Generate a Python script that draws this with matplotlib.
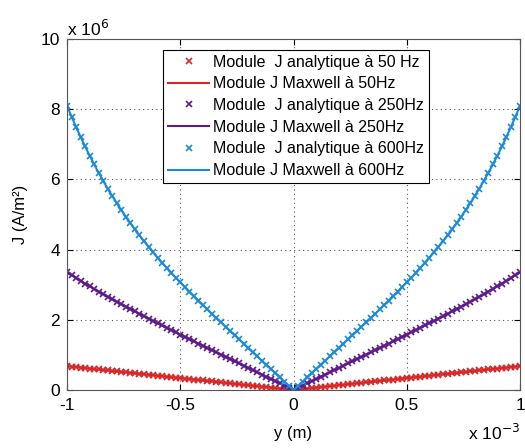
import numpy as np
from matplotlib import pyplot as plt
from matplotlib.ticker import FuncFormatter, MultipleLocator

#######################################################
## data (half profile, y >= 0, mirrored on y < 0)
#######################################################

y_half_mm = [0.00, 0.02, 0.04, 0.06, 0.08, 0.10, 0.12, 0.14, 0.16, 0.18,
             0.20, 0.22, 0.24, 0.26, 0.28, 0.30, 0.32, 0.34, 0.36, 0.38,
             0.40, 0.42, 0.44, 0.46, 0.48, 0.50, 0.52, 0.54, 0.56, 0.58,
             0.60, 0.62, 0.64, 0.66, 0.68, 0.70, 0.72, 0.74, 0.76, 0.78,
             0.80, 0.82, 0.84, 0.86, 0.88, 0.90, 0.92, 0.94, 0.96, 0.98, 1.00]

# |J| in 1e6 A/m2
j_50 = [0.000, 0.014, 0.027, 0.041, 0.054, 0.068, 0.081, 0.095, 0.109, 0.122,
        0.136, 0.149, 0.163, 0.176, 0.190, 0.203, 0.217, 0.231, 0.244, 0.258,
        0.271, 0.285, 0.298, 0.312, 0.326, 0.339, 0.353, 0.366, 0.380, 0.394,
        0.407, 0.421, 0.434, 0.448, 0.461, 0.475, 0.489, 0.502, 0.516, 0.530,
        0.543, 0.557, 0.570, 0.584, 0.598, 0.611, 0.625, 0.639, 0.653, 0.666, 0.680]

j_250 = [0.000, 0.063, 0.126, 0.189, 0.252, 0.315, 0.377, 0.440, 0.503, 0.566,
         0.629, 0.692, 0.755, 0.818, 0.881, 0.944, 1.007, 1.070, 1.134, 1.197,
         1.260, 1.324, 1.387, 1.451, 1.515, 1.579, 1.644, 1.708, 1.773, 1.838,
         1.904, 1.970, 2.036, 2.103, 2.170, 2.237, 2.306, 2.375, 2.444, 2.515,
         2.586, 2.658, 2.731, 2.804, 2.879, 2.955, 3.032, 3.111, 3.191, 3.272, 3.354]

j_600 = [0.000, 0.120, 0.240, 0.359, 0.479, 0.599, 0.719, 0.839, 0.958, 1.078,
         1.199, 1.319, 1.439, 1.560, 1.681, 1.802, 1.924, 2.047, 2.170, 2.294,
         2.420, 2.546, 2.674, 2.803, 2.934, 3.067, 3.203, 3.341, 3.481, 3.625,
         3.773, 3.924, 4.080, 4.240, 4.405, 4.575, 4.751, 4.934, 5.123, 5.319,
         5.523, 5.735, 5.956, 6.186, 6.426, 6.676, 6.937, 7.209, 7.493, 7.790, 8.100]

labels = ['Module  J analytique à 50 Hz', 'Module J Maxwell à 50Hz',
          'Module  J analytique à 250Hz', 'Module J Maxwell à 250Hz',
          'Module  J analytique à 600Hz', 'Module J Maxwell à 600Hz']
colors = ['#d62728', '#5e1a8c', '#1a8ad8']


def full_profile(half):
    half = np.asarray(half, dtype=float)
    return np.concatenate([half[::-1], half[1:]])


y_m = np.concatenate([-np.asarray(y_half_mm)[::-1], np.asarray(y_half_mm)[1:]]) * 1e-3

#######################################################
## plot
#######################################################

plt.rcParams['font.family'] = ['Liberation Sans', 'DejaVu Sans']
plt.rcParams['font.size'] = 12

fig = plt.figure(figsize=(5.25, 4.48), dpi=100)
ax = fig.add_axes([0.1276, 0.1295, 0.8629, 0.7835])

for i, j in enumerate([j_50, j_250, j_600]):
    jj = full_profile(j) * 1e6
    ax.plot(y_m, jj, 'x', color=colors[i], ms=5, mew=1.2, label=labels[2 * i])
    ax.plot(y_m, jj, '-', color=colors[i], lw=1.5, label=labels[2 * i + 1])

ax.set_xlim(-1e-3, 1e-3)
ax.set_ylim(0, 10e6)
ax.xaxis.set_major_locator(MultipleLocator(0.5e-3))
ax.yaxis.set_major_locator(MultipleLocator(2e6))
ax.xaxis.set_major_formatter(FuncFormatter(lambda v, p: '%g' % round(v * 1e3, 6)))
ax.yaxis.set_major_formatter(FuncFormatter(lambda v, p: '%g' % round(v / 1e6, 6)))
ax.tick_params(direction='in', top=True, right=True, length=4, labelsize=12.5)
ax.tick_params(axis='x', pad=6)
ax.tick_params(axis='y', pad=5)
ax.grid(True, linestyle=(0, (1, 3)), color='#555555', lw=0.8)
for s in ax.spines.values():
    s.set_color('#555555')

ax.text(0.0, 1.0, r'x 10$^{6}$', transform=ax.transAxes, fontsize=12.5, va='bottom', ha='left')
ax.text(1.0, -0.143, r'x 10$^{-3}$', transform=ax.transAxes, fontsize=12.5,
        va='baseline', ha='right')

ax.set_xlabel('y (m)', fontsize=12, labelpad=9)
ax.set_ylabel('J (A/m²)', fontsize=12, labelpad=9)

leg = ax.legend(loc='upper left', bbox_to_anchor=(0.212, 0.969), borderaxespad=0,
                fancybox=False, framealpha=1, edgecolor='black', fontsize=11.5,
                handlelength=2.6, handletextpad=0.25, labelspacing=0.42,
                borderpad=0.3)
leg.get_frame().set_linewidth(0.8)

plt.savefig('out.png', dpi=100)
